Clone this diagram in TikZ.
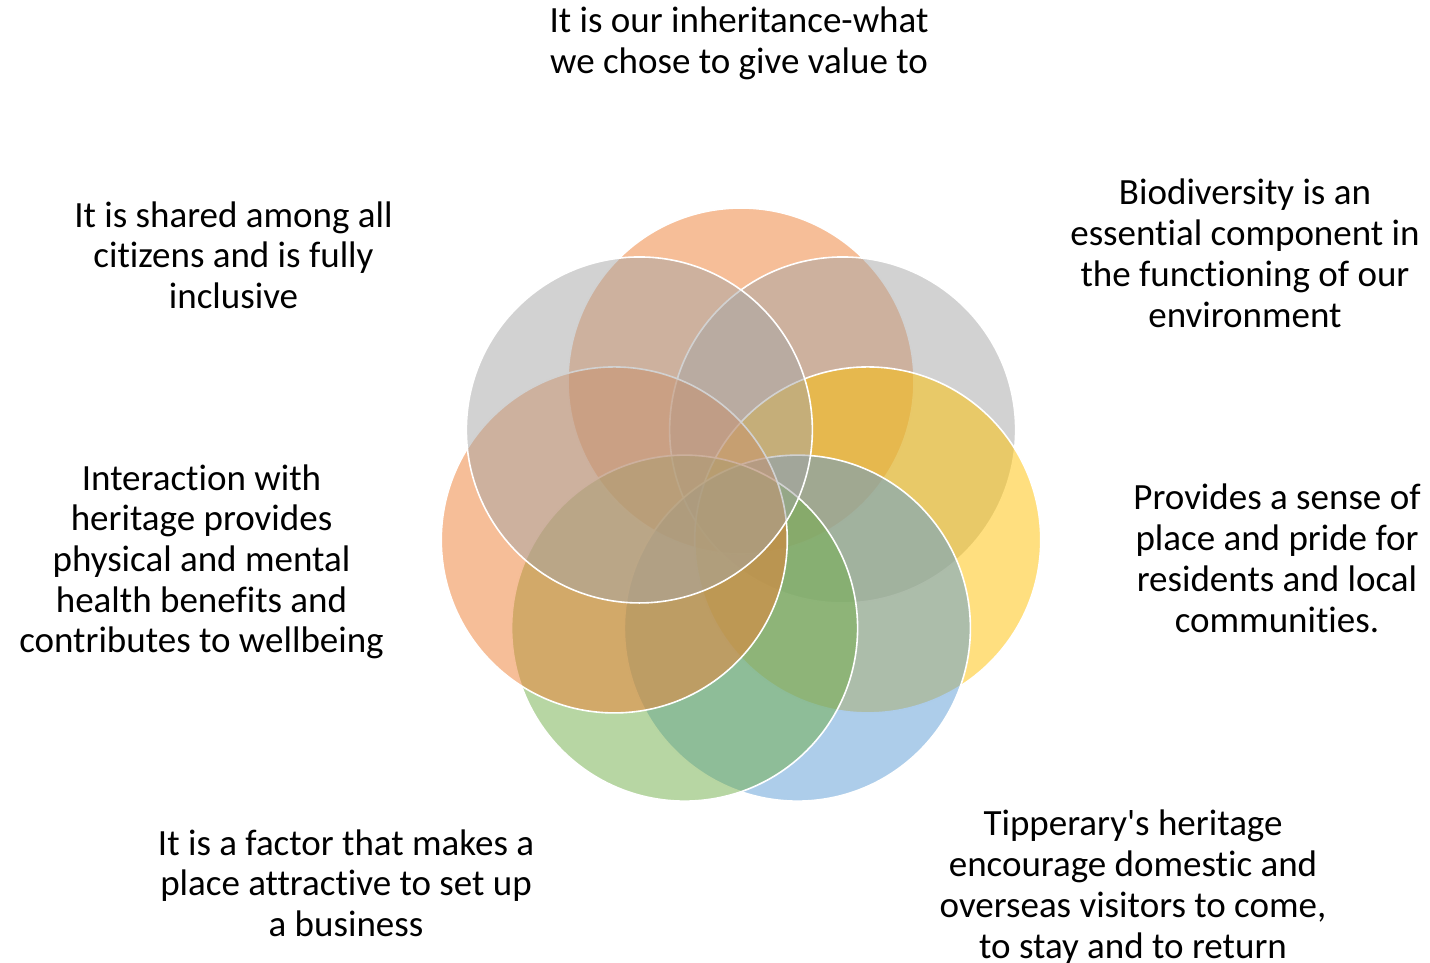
\documentclass[tikz,border=0pt]{standalone}
\usepackage{fontspec}
\setmainfont{Carlito}[Ligatures=NoCommon]
\definecolor{cOrange}{HTML}{ED7D31}
\definecolor{cGray}{HTML}{A5A5A5}
\definecolor{cGold}{HTML}{FFC000}
\definecolor{cBlue}{HTML}{5B9BD5}
\definecolor{cGreen}{HTML}{70AD47}
\begin{document}
\begin{tikzpicture}[x=0.5pt,y=-0.5pt,
  petal/.style={fill=#1, fill opacity=0.5, draw=white, draw opacity=1, line width=0.8pt},
  txt/.style={font=\fontsize{18.5}{20.35}\selectfont, align=center, inner sep=0pt, anchor=base, text=black}]
\useasboundingbox (0,0) rectangle (1430,963);
\coordinate (c) at (741,511);
\foreach \col [count=\k from 0] in {cOrange,cGray,cGold,cBlue,cGreen,cOrange,cGray} {
  \path[petal=\col, shift={(c)}] ({-90+\k*360/7}:130) circle[radius=173];
}
% base anchor = baseline of the last line
\node[txt] (t1) at (739,73.7) {It is our inheritance-what\\we chose to give value to};
\node[txt] (t2) at (1245,327) {Biodiversity is an\\essential component in\\the functioning of our\\environment};
\node[txt] (t3) at (1277,632) {Provides a sense of\\place and pride for\\residents and local\\communities.};
\node[txt] (t4) at (1133,958) {Tipperary\textquotesingle s heritage\\encourage domestic and\\overseas visitors to come,\\to stay and to return};
\node[txt] (t5) at (346,936.4) {It is a factor that makes a\\place attractive to set up\\a business};
\node[txt] (t6) at (201.5,652.8) {Interaction with\\heritage provides\\physical and mental\\health benefits and\\contributes to wellbeing};
\node[txt] (t7) at (233.5,308.4) {It is shared among all\\citizens and is fully\\inclusive};
\end{tikzpicture}
\end{document}
